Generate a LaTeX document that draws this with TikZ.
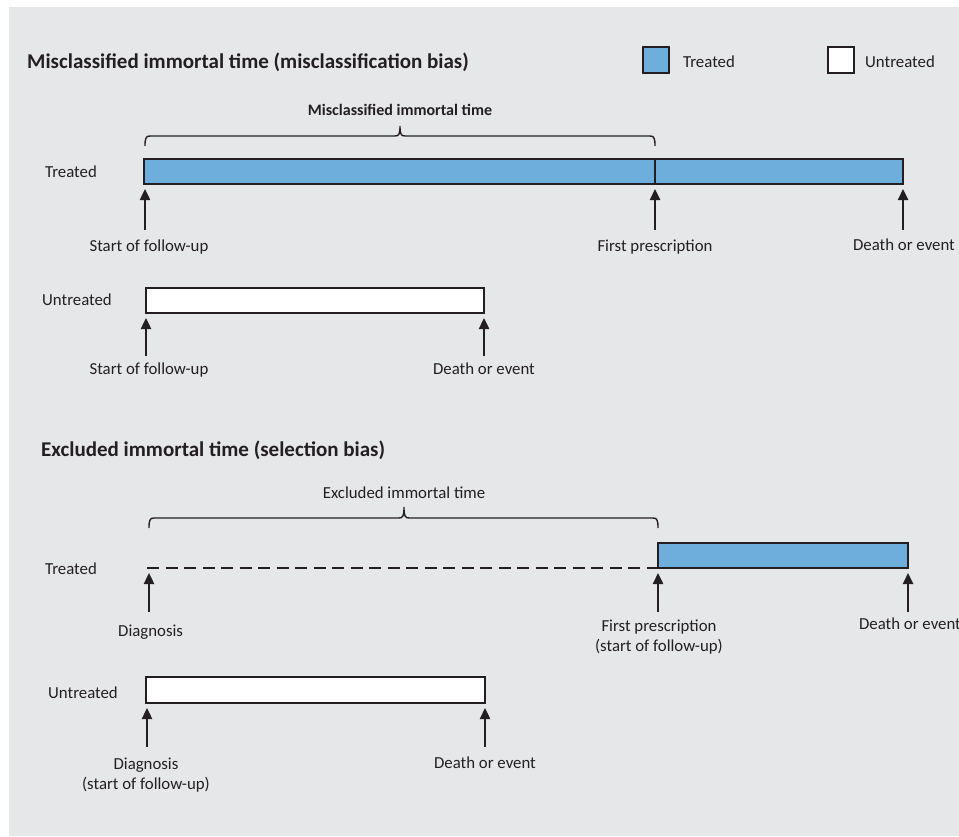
\documentclass[tikz,border=0pt]{standalone}
\usepackage{fontspec}
\setmainfont{Carlito}
\usetikzlibrary{arrows.meta}
\definecolor{panel}{HTML}{E6E7E9}
\definecolor{tblue}{HTML}{6EAEDD}
\definecolor{ink}{HTML}{231F20}
\begin{document}
\begin{tikzpicture}[x=1pt,y=-1pt,
  lab/.style={font=\fontsize{16.8}{20}\selectfont, text=ink, inner sep=0pt, anchor=mid, yshift=-3.5pt},
  ttl/.style={font=\fontsize{21}{25}\selectfont\bfseries, text=ink, inner sep=0pt, anchor=mid west, yshift=-4pt},
  barbox/.style={draw=ink, line width=1.8pt, inner sep=0pt, outer sep=0pt, anchor=north west},
  arr/.style={-{Triangle[width=10pt,length=11pt]}, line width=2.4pt, draw=ink, shorten >=5pt},
  brc/.style={draw=ink, line width=1.4pt},
]
\useasboundingbox (0,0) rectangle (959,836);
\fill[white] (0,0) rectangle (959,836);
\fill[panel] (9,7) rectangle (959,836);

% ---------- Section 1 ----------
\node[ttl] (title1) at (27,62) {Misclassified immortal time (misclassification bias)};

% legend
\node[barbox, fill=tblue, minimum width=26pt, minimum height=26pt] (legT) at (643,47) {};
\node[lab, anchor=mid west] (legTtxt) at (683,62) {Treated};
\node[barbox, fill=white, minimum width=26pt, minimum height=26pt] (legU) at (828,47) {};
\node[lab, anchor=mid west] (legUtxt) at (865,62) {Untreated};

% brace 1
\node[lab, font=\fontsize{16}{19}\selectfont\bfseries] (brlab1) at (400,110) {Misclassified immortal time};
\draw[brc] (145,146) .. controls (145,138) and (146,136) .. (150,136) -- (395,136)
  .. controls (399,136) and (400,134) .. (400,126)
  .. controls (400,134) and (401,136) .. (405,136) -- (650,136)
  .. controls (654,136) and (655,138) .. (655,146);

% treated bar 1
\node[lab, anchor=mid west] (row1) at (45,172) {Treated};
\node[barbox, fill=tblue, minimum width=759pt, minimum height=25pt] (tbar1) at (144,159) {};
\coordinate (div1top) at (655,159);
\coordinate (div1bot) at (655,184);
\draw[ink, line width=2.2pt] (div1top) -- (div1bot);

\coordinate (a1s) at (145,230);
\coordinate (a1e) at (145,184);
\coordinate (a2s) at (655,230);
\coordinate (a3s) at (903,230);
\draw[arr] (a1s) -- (a1e);
\draw[arr] (a2s) -- (div1bot);
\draw[arr] (a3s) -- (tbar1.south east);

\node[lab] (l1a) at (149,246) {Start of follow-up};
\node[lab] (l1b) at (655,246) {First prescription};
\node[lab] (l1c) at (904,245) {Death or event};

% untreated bar 1
\node[lab, anchor=mid west] (row2) at (42,300) {Untreated};
\node[barbox, fill=white, minimum width=338pt, minimum height=25pt] (ubar1) at (146,288) {};
\coordinate (b1s) at (146,356);
\coordinate (b2s) at (484,356);
\draw[arr] (b1s) -- (ubar1.south west);
\draw[arr] (b2s) -- (ubar1.south east);
\node[lab] (l2a) at (149,369) {Start of follow-up};
\node[lab] (l2b) at (484,369) {Death or event};

% ---------- Section 2 ----------
\node[ttl] (title2) at (41,450) {Excluded immortal time (selection bias)};

% brace 2
\node[lab] (brlab2) at (404,493) {Excluded immortal time};
\draw[brc] (149,528) .. controls (149,520) and (150,518) .. (154,518) -- (399,518)
  .. controls (403,518) and (404,516) .. (404,507)
  .. controls (404,516) and (405,518) .. (409,518) -- (653,518)
  .. controls (657,518) and (658,520) .. (658,528);

% treated row 2
\node[lab, anchor=mid west] (row3) at (45,569) {Treated};
\coordinate (dashL) at (147,568);
\node[barbox, fill=tblue, minimum width=250pt, minimum height=25pt] (tbar2) at (658,543) {};
\draw[ink, line width=1.5pt, dash pattern=on 12pt off 6.5pt] (dashL) -- (tbar2.south west);

\coordinate (c1s) at (149,612);
\coordinate (c1e) at (149,568);
\coordinate (c2s) at (658,612);
\coordinate (c3s) at (908,612);
\draw[arr] (c1s) -- (c1e);
\draw[arr] (c2s) -- (tbar2.south west);
\draw[arr] (c3s) -- (tbar2.south east);

\node[lab, anchor=mid west] (l3a) at (118,631) {Diagnosis};
\node[lab, align=center, anchor=north, yshift=0pt] (l3b) at (659,616) {First prescription\\(start of follow-up)};
\node[lab] (l3c) at (910,624) {Death or event};

% untreated row 2
\node[lab, anchor=mid west] (row4) at (48,693) {Untreated};
\node[barbox, fill=white, minimum width=339pt, minimum height=26pt] (ubar2) at (146,677) {};
\coordinate (d1s) at (147,747);
\coordinate (d1e) at (147,703);
\coordinate (d2s) at (485,747);
\draw[arr] (d1s) -- (d1e);
\draw[arr] (d2s) -- (ubar2.south east);
\node[lab, align=center, anchor=north, yshift=0pt] (l4a) at (146,754) {Diagnosis\\(start of follow-up)};
\node[lab] (l4b) at (485,763) {Death or event};
\end{tikzpicture}
\end{document}
